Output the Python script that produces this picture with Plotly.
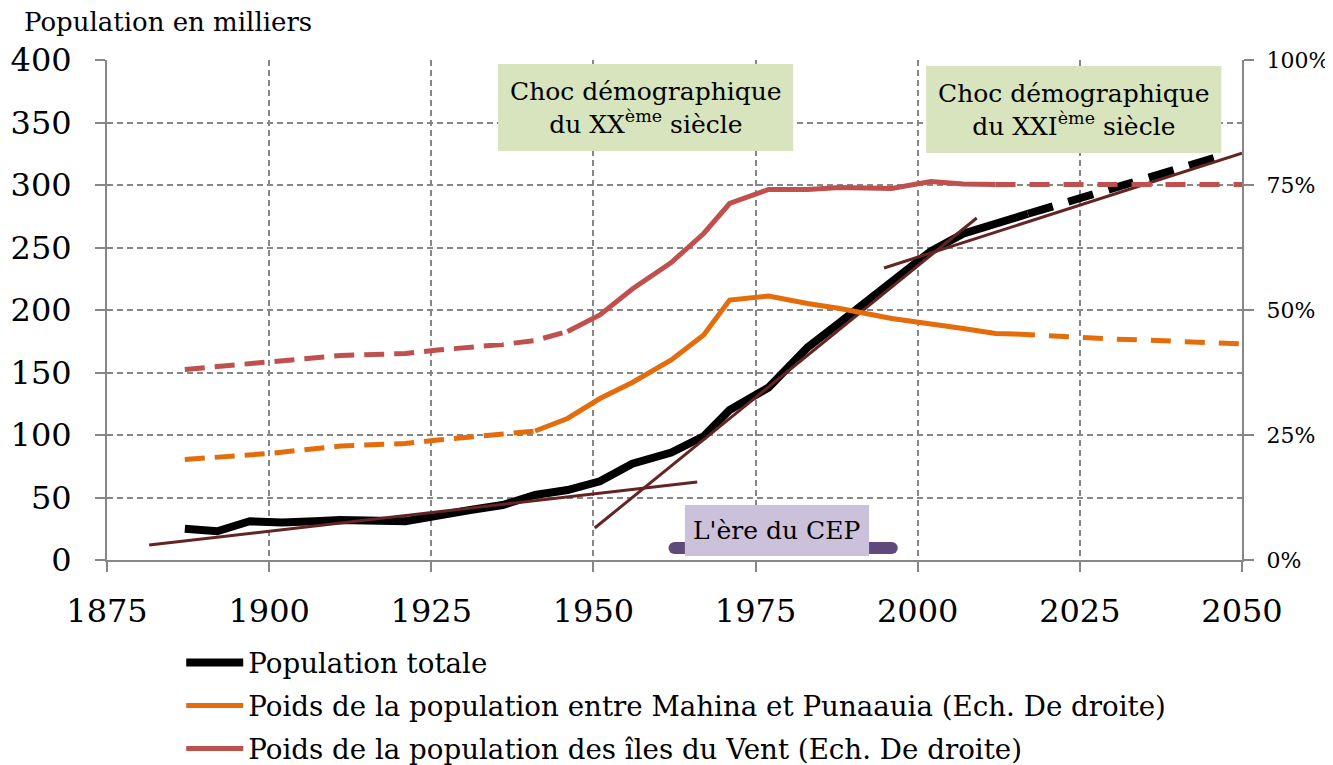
import plotly.graph_objects as go

# ---------------- data ----------------
pop_years = [1887, 1892, 1897, 1902, 1907, 1911, 1921, 1926, 1931, 1936, 1941, 1946,
             1951, 1956, 1962, 1967, 1971, 1977, 1983, 1988, 1996, 2002, 2007, 2012, 2017]
pop_values = [25, 23, 31, 30, 31, 32, 31, 36, 40, 44, 52, 56,
              63, 77, 86, 99, 120, 138, 170, 190, 222, 247, 261, 269, 277]
pop_proj_years = [2017, 2022, 2027, 2032, 2037, 2042, 2046]
pop_proj_values = [277, 285, 293, 301, 309, 316, 322]

mp_early_years = [1887, 1900, 1911, 1921, 1926, 1936, 1941]
mp_early_values = [20.1, 21.3, 22.8, 23.3, 24.0, 25.2, 25.8]
mp_years = [1941, 1946, 1951, 1956, 1962, 1967, 1971, 1977, 1983, 1988, 1996, 2002, 2007, 2012, 2015]
mp_values = [25.8, 28.3, 32.3, 35.5, 40.0, 45.0, 52.0, 52.8, 51.3, 50.3, 48.3, 47.3, 46.3, 45.3, 45.2]
mp_proj_years = [2015, 2020, 2025, 2030, 2035, 2040, 2045, 2050]
mp_proj_values = [45.2, 44.8, 44.5, 44.2, 44.0, 43.7, 43.4, 43.2]

idv_early_years = [1887, 1900, 1911, 1921, 1926, 1936, 1941, 1946]
idv_early_values = [38.1, 39.5, 40.9, 41.3, 42.0, 43.1, 43.9, 45.7]
idv_years = [1946, 1951, 1956, 1962, 1967, 1971, 1977, 1983, 1988, 1996, 2002, 2007, 2012]
idv_values = [45.7, 49.0, 54.2, 59.5, 65.3, 71.3, 74.1, 74.1, 74.5, 74.3, 75.7, 75.2, 75.1]
idv_proj_years = [2012, 2020, 2030, 2040, 2050]
idv_proj_values = [75.1, 75.1, 75.1, 75.1, 75.1]

trend1_x = [1881.5, 1966]
trend1_y = [12, 62.4]
trend2_x = [1950.2, 2009.1]
trend2_y = [25.6, 273.6]
trend3_x = [1994.8, 2050]
trend3_y = [233.6, 325.5]

cep_years = [1962.5, 1996]
cep_level = [9.6, 9.6]

x_ticks = [1875, 1900, 1925, 1950, 1975, 2000, 2025, 2050]
y_ticks = [0, 50, 100, 150, 200, 250, 300, 350, 400]
y2_ticks = [0, 25, 50, 75, 100]
y2_labels = ["0%", "25%", "50%", "75%", "100%"]

# ---------------- style ----------------
FONT = "DejaVu Serif"
BLACK = "#000000"
ORANGE = "#E46C0A"
RED = "#C0504D"
BROWN = "#632523"
GRID = "#878787"

fig = go.Figure()

# Total population
fig.add_trace(go.Scatter(x=pop_years, y=pop_values, mode="lines",
                         line=dict(color=BLACK, width=8), name="Population totale",
                         legendrank=1, legendgroup="g1"))
fig.add_trace(go.Scatter(x=pop_proj_years, y=pop_proj_values, mode="lines",
                         line=dict(color=BLACK, width=8, dash="26px,16px"), showlegend=False))

# Mahina-Punaauia share
fig.add_trace(go.Scatter(x=mp_early_years, y=mp_early_values, mode="lines", yaxis="y2",
                         line=dict(color=ORANGE, width=5, dash="20px,10px"), showlegend=False))
fig.add_trace(go.Scatter(x=mp_years, y=mp_values, mode="lines", yaxis="y2",
                         line=dict(color=ORANGE, width=5),
                         name="Poids de la population entre Mahina et Punaauia (Ech. De droite)",
                         legendrank=2, legendgroup="g2"))
fig.add_trace(go.Scatter(x=mp_proj_years, y=mp_proj_values, mode="lines", yaxis="y2",
                         line=dict(color=ORANGE, width=5, dash="20px,14px"), showlegend=False))

# Iles du Vent share
fig.add_trace(go.Scatter(x=idv_early_years, y=idv_early_values, mode="lines", yaxis="y2",
                         line=dict(color=RED, width=5, dash="20px,10px"), showlegend=False))
fig.add_trace(go.Scatter(x=idv_years, y=idv_values, mode="lines", yaxis="y2",
                         line=dict(color=RED, width=5),
                         name="Poids de la population des îles du Vent (Ech. De droite)",
                         legendrank=3, legendgroup="g3"))
fig.add_trace(go.Scatter(x=idv_proj_years, y=idv_proj_values, mode="lines", yaxis="y2",
                         line=dict(color=RED, width=5, dash="20px,14px"), showlegend=False))

# CEP bar
fig.add_trace(go.Scatter(x=cep_years, y=cep_level, mode="lines+markers",
                         line=dict(color="#604A7B", width=12),
                         marker=dict(color="#604A7B", size=12, symbol="circle"),
                         showlegend=False))

# trend lines
for tx, ty in [(trend1_x, trend1_y), (trend2_x, trend2_y), (trend3_x, trend3_y)]:
    fig.add_trace(go.Scatter(x=tx, y=ty, mode="lines",
                             line=dict(color=BROWN, width=3), showlegend=False))

# boxes
boxes = [
    dict(x0=1935.3, x1=1980.8, y0=327.2, y1=396.8, color="#D7E4BD",
         text="Choc démographique<br>du XX<sup>ème</sup> siècle"),
    dict(x0=2001.3, x1=2046.8, y0=325.6, y1=395.2, color="#D7E4BD",
         text="Choc démographique<br>du XXI<sup>ème</sup> siècle"),
    dict(x0=1964.1, x1=1992.5, y0=3.2, y1=44.0, color="#CCC1DA",
         text="L'ère du CEP"),
]
for b in boxes:
    fig.add_shape(type="rect", xref="x", yref="y", x0=b["x0"], x1=b["x1"], y0=b["y0"], y1=b["y1"],
                  fillcolor=b["color"], line=dict(width=0), layer="above")
    fig.add_annotation(x=(b["x0"] + b["x1"]) / 2, y=(b["y0"] + b["y1"]) / 2, xref="x", yref="y",
                       text=b["text"], showarrow=False,
                       font=dict(family=FONT, size=25, color="#000000"))

fig.add_annotation(x=-0.075, y=1.076, xref="paper", yref="paper", text="Population en milliers",
                   showarrow=False, xanchor="left", yanchor="middle",
                   font=dict(family=FONT, size=26, color="#000000"))

fig.update_layout(
    width=1325, height=757,
    margin=dict(l=99, r=91, t=52, b=205, autoexpand=False),
    paper_bgcolor="white", plot_bgcolor="white",
    font=dict(family=FONT, color="#000000"),
    xaxis=dict(range=[1875, 2050], tickvals=x_ticks, showgrid=True, gridcolor=GRID,
               griddash="6px,4px", gridwidth=1.5, showline=True, linecolor=GRID, linewidth=2,
               ticks="outside", ticklen=10, tickcolor=GRID, tickwidth=1.5, automargin=False,
               tickfont=dict(size=32), ticklabelstandoff=12, zeroline=False),
    yaxis=dict(range=[0, 400], tickvals=y_ticks, showgrid=True, gridcolor=GRID,
               griddash="6px,4px", gridwidth=1.5, showline=True, linecolor=GRID, linewidth=2,
               ticks="outside", ticklen=10, tickcolor=GRID, tickwidth=1.5, automargin=False,
               tickfont=dict(size=32), ticklabelstandoff=17, zeroline=False),
    yaxis2=dict(range=[0, 100], tickvals=y2_ticks, ticktext=y2_labels, overlaying="y",
                side="right", showgrid=False, showline=True, linecolor=GRID, linewidth=2,
                ticks="outside", ticklen=10, tickcolor=GRID, tickwidth=1.5, automargin=False,
                tickfont=dict(size=22), ticklabelstandoff=8, zeroline=False),
    legend=dict(orientation="v", x=0.0654, xanchor="left", yref="container", y=0.1678,
                yanchor="top", font=dict(size=27.7), bgcolor="rgba(0,0,0,0)",
                tracegroupgap=4, itemwidth=57),
    showlegend=True,
)

fig.write_html("out.html")
